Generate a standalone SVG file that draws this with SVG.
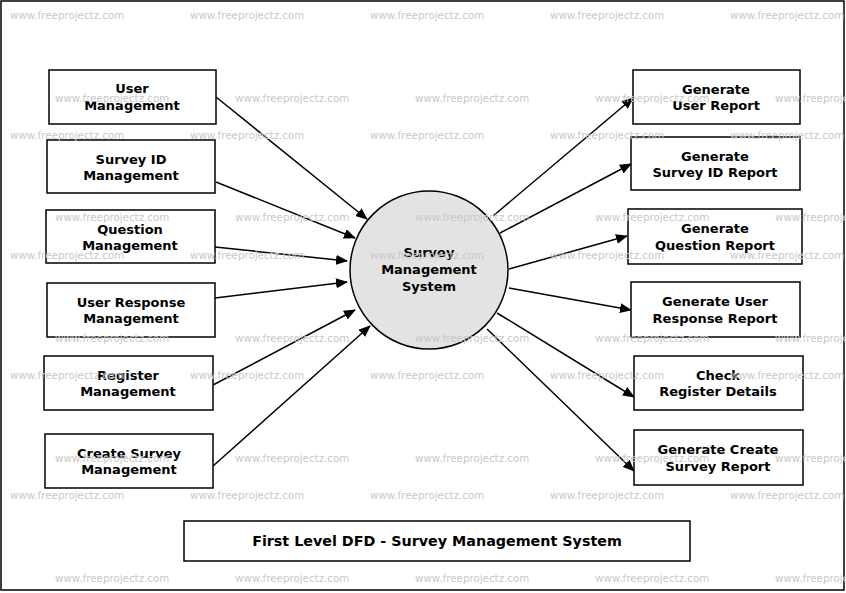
<svg xmlns="http://www.w3.org/2000/svg" width="846" height="593" viewBox="0 0 846 593">
<style>
.b{fill:#fff;stroke:#000;stroke-width:1.5}
.t{font-family:"DejaVu Sans",sans-serif;font-weight:bold;font-size:13px;text-anchor:middle}
.w{font-family:"DejaVu Sans",sans-serif;font-size:10.3px;fill:#c8c8c8}
.c{stroke:#000;stroke-width:1.5;fill:none;marker-end:url(#a)}
</style>
<defs><marker id="a" markerWidth="12" markerHeight="10" refX="11" refY="5" orient="auto" markerUnits="userSpaceOnUse"><path d="M0,0 L12,5 L0,10 Z" fill="#000"/></marker></defs>
<rect x="1" y="1" width="843" height="589" fill="#fff" stroke="#000" stroke-width="1.5"/>
<g id="connectors">
<line class="c" x1="216" y1="97" x2="367" y2="219"/>
<line class="c" x1="216" y1="182" x2="355" y2="238"/>
<line class="c" x1="215" y1="247" x2="347" y2="261"/>
<line class="c" x1="215" y1="298" x2="347" y2="282"/>
<line class="c" x1="213" y1="385" x2="355" y2="310"/>
<line class="c" x1="213" y1="466" x2="370" y2="326"/>
<line class="c" x1="493" y1="216" x2="633" y2="98"/>
<line class="c" x1="500" y1="233" x2="631" y2="164"/>
<line class="c" x1="509" y1="269" x2="627" y2="236"/>
<line class="c" x1="509" y1="288" x2="631" y2="310"/>
<line class="c" x1="497" y1="313" x2="634" y2="397"/>
<line class="c" x1="487" y1="329" x2="634" y2="471"/>
</g>
<g id="center"><circle cx="429" cy="270" r="79" fill="#e3e3e3" stroke="#000" stroke-width="1.5"/><text class="t" x="429" y="257">Survey</text><text class="t" x="429" y="274">Management</text><text class="t" x="429" y="291">System</text></g>
<g id="l1"><rect class="b" x="49" y="70" width="167" height="54"/><text class="t" x="132" y="93">User</text><text class="t" x="132" y="110">Management</text></g>
<g id="l2"><rect class="b" x="47" y="140" width="168" height="53"/><text class="t" x="131" y="164">Survey ID</text><text class="t" x="131" y="180">Management</text></g>
<g id="l3"><rect class="b" x="46" y="210" width="169" height="53"/><text class="t" x="130" y="234">Question</text><text class="t" x="130" y="250">Management</text></g>
<g id="l4"><rect class="b" x="47" y="283" width="168" height="54"/><text class="t" x="131" y="307">User Response</text><text class="t" x="131" y="323">Management</text></g>
<g id="l5"><rect class="b" x="44" y="356" width="169" height="54"/><text class="t" x="128" y="380">Register</text><text class="t" x="128" y="396">Management</text></g>
<g id="l6"><rect class="b" x="45" y="434" width="168" height="54"/><text class="t" x="129" y="458">Create Survey</text><text class="t" x="129" y="474">Management</text></g>
<g id="r1"><rect class="b" x="633" y="70" width="167" height="54"/><text class="t" x="716" y="94">Generate</text><text class="t" x="716" y="110">User Report</text></g>
<g id="r2"><rect class="b" x="631" y="137" width="169" height="53"/><text class="t" x="715" y="161">Generate</text><text class="t" x="715" y="177">Survey ID Report</text></g>
<g id="r3"><rect class="b" x="628" y="209" width="174" height="55"/><text class="t" x="715" y="233">Generate</text><text class="t" x="715" y="250">Question Report</text></g>
<g id="r4"><rect class="b" x="631" y="282" width="169" height="55"/><text class="t" x="715" y="306">Generate User</text><text class="t" x="715" y="323">Response Report</text></g>
<g id="r5"><rect class="b" x="634" y="356" width="169" height="54"/><text class="t" x="718" y="380">Check</text><text class="t" x="718" y="396">Register Details</text></g>
<g id="r6"><rect class="b" x="634" y="430" width="169" height="55"/><text class="t" x="718" y="454">Generate Create</text><text class="t" x="718" y="471">Survey Report</text></g>
<g id="title"><rect class="b" x="184" y="521" width="506" height="40"/><text class="t" x="437" y="546" style="font-size:14.3px">First Level DFD - Survey Management System</text></g>
<g id="watermarks">
<text class="w" y="19"><tspan x="10">www.freeprojectz.com</tspan><tspan x="190">www.freeprojectz.com</tspan><tspan x="370">www.freeprojectz.com</tspan><tspan x="550">www.freeprojectz.com</tspan><tspan x="730">www.freeprojectz.com</tspan></text>
<text class="w" y="102"><tspan x="55">www.freeprojectz.com</tspan><tspan x="235">www.freeprojectz.com</tspan><tspan x="415">www.freeprojectz.com</tspan><tspan x="595">www.freeprojectz.com</tspan><tspan x="775">www.freeprojectz.com</tspan></text>
<text class="w" y="139"><tspan x="10">www.freeprojectz.com</tspan><tspan x="190">www.freeprojectz.com</tspan><tspan x="370">www.freeprojectz.com</tspan><tspan x="550">www.freeprojectz.com</tspan><tspan x="730">www.freeprojectz.com</tspan></text>
<text class="w" y="221"><tspan x="55">www.freeprojectz.com</tspan><tspan x="235">www.freeprojectz.com</tspan><tspan x="415">www.freeprojectz.com</tspan><tspan x="595">www.freeprojectz.com</tspan><tspan x="775">www.freeprojectz.com</tspan></text>
<text class="w" y="259"><tspan x="10">www.freeprojectz.com</tspan><tspan x="190">www.freeprojectz.com</tspan><tspan x="370">www.freeprojectz.com</tspan><tspan x="550">www.freeprojectz.com</tspan><tspan x="730">www.freeprojectz.com</tspan></text>
<text class="w" y="342"><tspan x="55">www.freeprojectz.com</tspan><tspan x="235">www.freeprojectz.com</tspan><tspan x="415">www.freeprojectz.com</tspan><tspan x="595">www.freeprojectz.com</tspan><tspan x="775">www.freeprojectz.com</tspan></text>
<text class="w" y="379"><tspan x="10">www.freeprojectz.com</tspan><tspan x="190">www.freeprojectz.com</tspan><tspan x="370">www.freeprojectz.com</tspan><tspan x="550">www.freeprojectz.com</tspan><tspan x="730">www.freeprojectz.com</tspan></text>
<text class="w" y="462"><tspan x="55">www.freeprojectz.com</tspan><tspan x="235">www.freeprojectz.com</tspan><tspan x="415">www.freeprojectz.com</tspan><tspan x="595">www.freeprojectz.com</tspan><tspan x="775">www.freeprojectz.com</tspan></text>
<text class="w" y="499"><tspan x="10">www.freeprojectz.com</tspan><tspan x="190">www.freeprojectz.com</tspan><tspan x="370">www.freeprojectz.com</tspan><tspan x="550">www.freeprojectz.com</tspan><tspan x="730">www.freeprojectz.com</tspan></text>
<text class="w" y="582"><tspan x="55">www.freeprojectz.com</tspan><tspan x="235">www.freeprojectz.com</tspan><tspan x="415">www.freeprojectz.com</tspan><tspan x="595">www.freeprojectz.com</tspan><tspan x="775">www.freeprojectz.com</tspan></text>
</g>
</svg>
